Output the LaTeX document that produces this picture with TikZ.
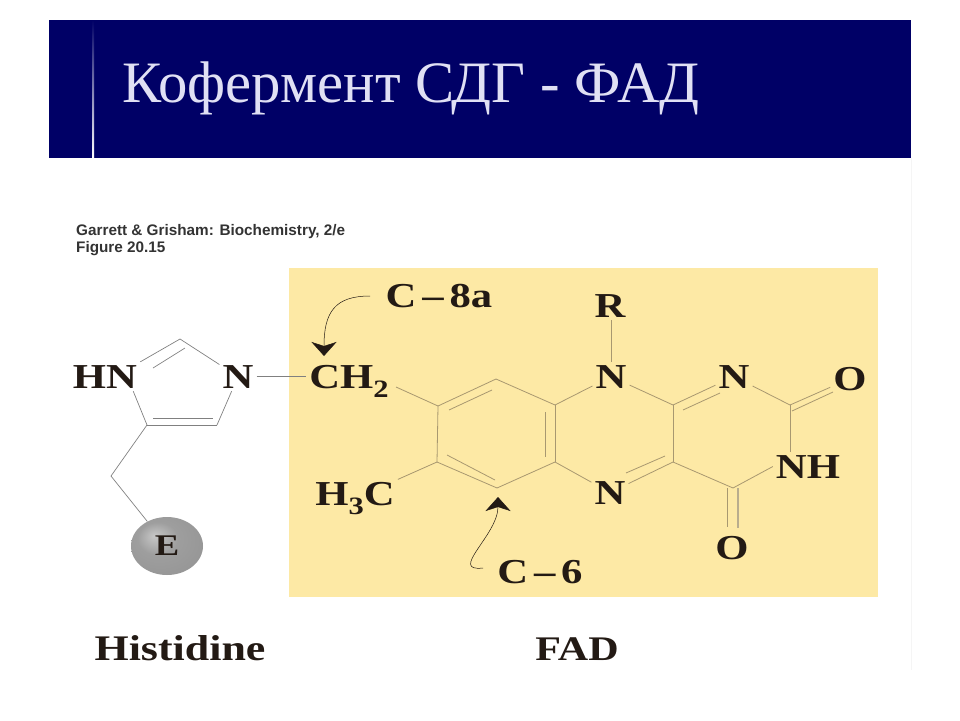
\documentclass[tikz,border=0pt]{standalone}
\usepackage{fontspec}
\newfontfamily\titlefont{Liberation Serif}
\newfontfamily\figfont{Liberation Sans}
\newfontfamily\atomfont[FakeStretch=1.22,BoldFeatures={FakeStretch=1.22}]{Liberation Serif}
\usetikzlibrary{arrows.meta,positioning,shapes.geometric}
\definecolor{navyband}{HTML}{000066}
\definecolor{titletext}{HTML}{E0E0F4}
\definecolor{paleyellow}{HTML}{FDE9A5}
\definecolor{inkdark}{HTML}{231A14}
\definecolor{bondtan}{HTML}{A89870}
\newcommand{\subnum}[1]{\raisebox{-.28em}{\fontsize{25}{25}\selectfont #1}}
\pgfdeclareradialshading{greyball}{\pgfpoint{-9bp}{9bp}}{color(0bp)=(black!22); color(14bp)=(black!38); color(36bp)=(black!42); color(50bp)=(black!62)}
\tikzset{
	%Define style for atom labels
	atom/.style={
		font=\fontsize{35}{35}\selectfont\atomfont\bfseries,
		text=inkdark,
		inner sep=3pt,
		anchor=base},
	caption/.style={
		atom,
		font=\fontsize{36}{36}\selectfont\atomfont\bfseries},
	sourceline/.style={
		anchor=base west,
		inner sep=0pt,
		text=black!80,
		font=\fontsize{15.3}{15.3}\selectfont\figfont\bfseries},
	% Define bond styles
	bond/.style={
		draw=bondtan,
		line width=0.8pt},
	greybond/.style={
		draw=black!50,
		line width=0.7pt},
	% Define arrow style
	pointer/.style={
		draw=inkdark,
		line width=0.5pt,
		-{Stealth[length=14pt,width=25pt,inset=4pt]}}
}
\begin{document}
\begin{tikzpicture}[x=1pt,y=-1pt]
	\useasboundingbox (0,0) rectangle (960,720);

	% title band
	\fill[navyband] (49,20) rectangle (911,158);
	\fill[top color=navyband, middle color=blue!60!navyband, bottom color=white] (92.5,20) rectangle (94,158);
	\node[anchor=base west, inner sep=0pt, text=titletext, font=\fontsize{58.7}{58.7}\selectfont\titlefont] (title) at (122,102) {Кофермент СДГ - ФАД};
	\draw[black!4, line width=1pt] (911,158) -- (911,670);

	% source lines
	\node[sourceline] (source) at (76,235) {Garrett \& Grisham: Biochemistry, 2/e};
	\node[sourceline] (figure) at (76,252) {Figure 20.15};

	\fill[paleyellow] (289,268) rectangle (878,597);

	% histidine atoms
	\node[atom] (hn) at (105,388) {HN};
	\node[atom] (nim) at (238,388) {N};
	\node[ellipse, minimum width=72pt, minimum height=58pt, inner sep=0pt, shading=greyball, text=inkdark, font=\fontsize{30}{30}\selectfont\atomfont\bfseries] (enzyme) at (167,546) {E};
	\coordinate (ctop) at (180,339);
	\coordinate (cleft) at (147,425);
	\coordinate (cright) at (217,425);
	\coordinate (chain) at (111,476);

	% isoalloxazine atoms
	\node[atom] (ch2) at (349,388) {CH\subnum{2}};
	\node[atom] (h3c) at (355,505) {H\subnum{3}C};
	\node[atom] (r) at (610,317) {R};
	\node[atom] (n10) at (611,388) {N};
	\node[atom] (n1) at (734,388) {N};
	\node[atom] (n5) at (610,504) {N};
	\node[atom] (nh) at (808,478) {NH};
	\node[atom] (otop) at (850,390) {O};
	\node[atom] (obot) at (732,559) {O};
	\node[atom] (c8a) at (439,307) {C\,–\,8a};
	\node[atom] (c6) at (540,583) {C\,–\,6};
	\coordinate (ch2end) at (396,387);
	\coordinate (ra) at (438,406);
	\coordinate (rb) at (496,379);
	\coordinate (rc) at (555,405);
	\coordinate (rd) at (555,462);
	\coordinate (re) at (497,488);
	\coordinate (rf) at (437,462);
	\coordinate (rg) at (673,405);
	\coordinate (rh) at (673,462);
	\coordinate (ri) at (790,405);
	\coordinate (rj) at (733,488);
	\coordinate (c8atail) at (370,296);
	\coordinate (c8atip) at (324,356);
	\coordinate (c6tail) at (483,568);
	\coordinate (c6tip) at (498,497);

	% second lines of the double bonds
	\coordinate (ab1) at (449,410);
	\coordinate (ab2) at (492,390);
	\coordinate (cd1) at (545,412);
	\coordinate (cd2) at (545,457);
	\coordinate (ef1) at (447,455);
	\coordinate (ef2) at (495,480);
	\coordinate (hn1) at (665,456);
	\coordinate (hn2) at (626,473);
	\coordinate (gn1) at (683,410);
	\coordinate (gn2) at (720,393);
	\coordinate (io1) at (792,411);
	\coordinate (io2) at (833,392);
	\coordinate (jo1) at (738,488);
	\coordinate (jo2) at (738,528);
	\coordinate (jo3) at (727,488);
	\coordinate (jo4) at (727,527);
	\coordinate (tl1) at (185,348);
	\coordinate (tl2) at (153,368);
	\coordinate (bt1) at (153,418);
	\coordinate (bt2) at (213,418);

	% histidine ring and chain
	\path[greybond]
	(hn.north east) edge (ctop)
	(tl1) edge (tl2)
	(ctop) edge (nim)
	(nim) edge (cright)
	(cright) edge (cleft)
	(bt1) edge (bt2)
	(cleft) edge ([xshift=-7pt]hn.south east)
	(cleft) edge (chain)
	(chain) edge (enzyme);
	\draw[greybond] (nim.east) -- (nim.east -| ch2.west);

	% rings of FAD
	\path[bond]
	(ch2end) edge (ra)
	(h3c) edge (rf)
	(ra) edge (rb) (rb) edge (rc) (rc) edge (rd) (rd) edge (re) (re) edge (rf) (rf) edge (ra)
	(ab1) edge (ab2) (cd1) edge (cd2) (ef1) edge (ef2)
	(rc) edge (n10) (n10) edge (rg) (rg) edge (rh) (rh) edge (n5) (n5) edge (rd)
	(hn1) edge (hn2)
	(rg) edge (n1) (gn1) edge (gn2)
	(n1) edge (ri) (ri) edge (otop) (io1) edge (io2)
	(ri) edge (ri |- nh.north) (nh.west) edge (rj) (rj) edge (rh)
	(r.south -| n10) edge (n10)
	(jo3) edge (jo4);
	\draw[bond, line width=1.6pt, draw=bondtan!80] (jo1) -- (jo2);

	% pointers
	\draw[pointer] (c8atail) .. controls (335,296) and (324,312) .. (c8atip);
	\draw[pointer] (c6tail) .. controls (448,572) and (498,535) .. (c6tip);

	% captions
	\node[caption] (histidine) at (180,660) {Histidine};
	\node[caption, font=\fontsize{34.5}{34.5}\selectfont\atomfont\bfseries] (fad) at (577,660) {FAD};
\end{tikzpicture}
\end{document}
